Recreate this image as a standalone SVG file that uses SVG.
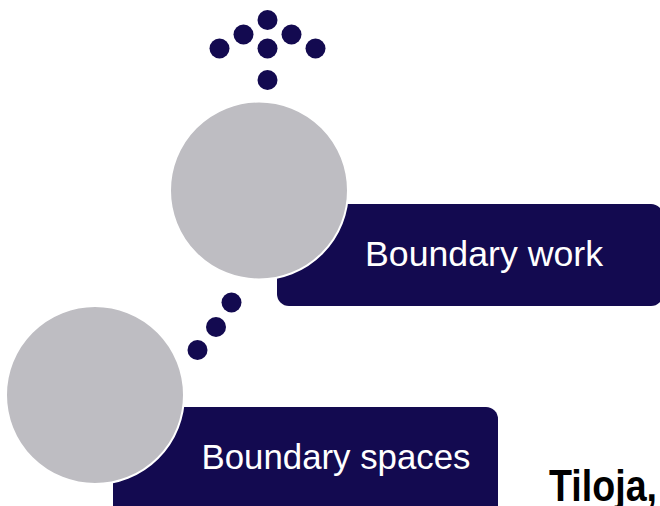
<svg xmlns="http://www.w3.org/2000/svg" width="660" height="506" viewBox="0 0 660 506">
<style>
.box{fill:#130a50}
.circ{fill:#bebdc2;stroke:#ffffff;stroke-width:2}
.dot{fill:#130a50}
.lbl{font-family:"Liberation Sans",Arial,sans-serif;font-size:35px;fill:#ffffff;text-anchor:middle}
.side{font-family:"Liberation Sans",Arial,sans-serif;font-size:44px;font-weight:bold;fill:#000000}
</style>
<rect width="660" height="506" fill="#ffffff"/>
<g id="connectors">
<g id="dots-top">
<circle class="dot" cx="267.5" cy="20" r="10"/>
<circle class="dot" cx="243.5" cy="34.5" r="10"/>
<circle class="dot" cx="291.5" cy="34.5" r="10"/>
<circle class="dot" cx="219.5" cy="48.5" r="10"/>
<circle class="dot" cx="267.5" cy="48.5" r="10"/>
<circle class="dot" cx="315.5" cy="48.5" r="10"/>
<circle class="dot" cx="267.5" cy="80" r="10"/>
</g>
<g id="dots-mid">
<circle class="dot" cx="231.5" cy="302.5" r="10"/>
<circle class="dot" cx="216" cy="327" r="10"/>
<circle class="dot" cx="197.5" cy="350" r="10"/>
</g>
</g>
<g id="node-work">
<rect class="box" x="277" y="204" width="386" height="102" rx="12"/>
<circle class="circ" cx="259" cy="190.5" r="89"/>
<text class="lbl" x="484" y="266" textLength="238" lengthAdjust="spacingAndGlyphs">Boundary work</text>
</g>
<g id="node-spaces">
<rect class="box" x="113" y="407" width="385" height="112" rx="12"/>
<circle class="circ" cx="95" cy="395" r="89"/>
<text class="lbl" x="336" y="469" textLength="269" lengthAdjust="spacingAndGlyphs">Boundary spaces</text>
</g>
<text class="side" x="549" y="501" textLength="108" lengthAdjust="spacingAndGlyphs">Tiloja,</text>
</svg>
